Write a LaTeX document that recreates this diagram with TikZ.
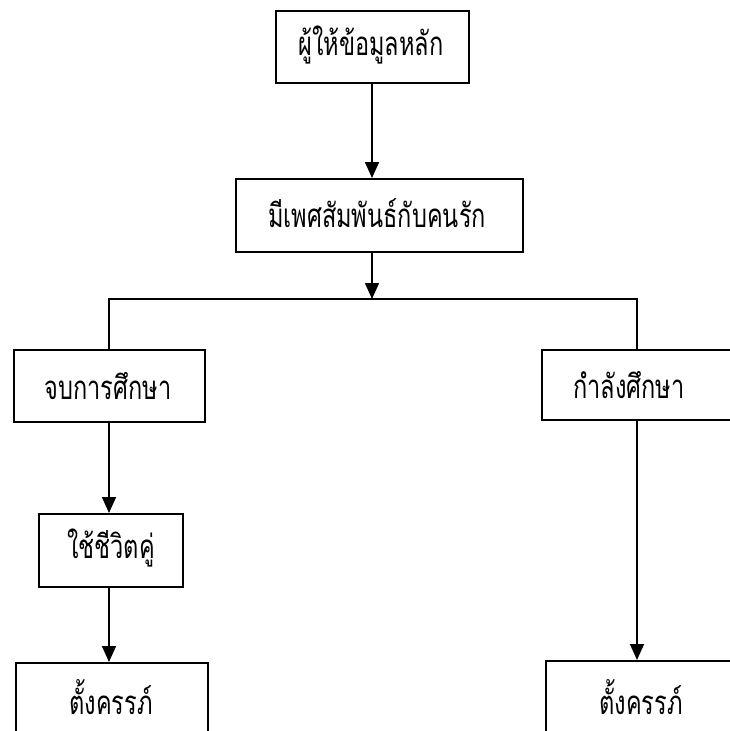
\documentclass[tikz,border=0pt]{standalone}
\usepackage{fontspec}
\newfontfamily\thaifont[Script=Thai]{Loma}
\usetikzlibrary{arrows.meta}
\newcommand{\tall}[1]{\scalebox{1.07}[1.5]{#1}}
\begin{document}
\begin{tikzpicture}[x=1pt,y=-1pt,
  box/.style={draw,line width=1.6pt,inner sep=0pt,anchor=north west},
  lbl/.style={font=\thaifont\fontsize{22}{24}\selectfont,inner sep=0pt},
  conn/.style={line width=1.6pt},
  arr/.style={conn,-{Triangle[width=14pt,length=16pt]}}]
\clip (0,0) rectangle (730,731);
\fill[white] (0,0) rectangle (730,731);
% boxes
\node[box,minimum width=193pt,minimum height=72pt] (b1) at (275,10) {};
\node[box,minimum width=287pt,minimum height=73pt] (b2) at (235,178) {};
\node[box,minimum width=191pt,minimum height=72pt] (b3) at (13,349) {};
\node[box,minimum width=250pt,minimum height=70pt] (b4) at (541,349) {};
\node[box,minimum width=144pt,minimum height=73pt] (b5) at (38,513) {};
\node[box,minimum width=192pt,minimum height=120pt] (b6) at (15,662) {};
\node[box,minimum width=250pt,minimum height=120pt] (b7) at (545,660) {};
% labels
\node[lbl] (t1) at (371,45) {\tall{ผู้ให้ข้อมูลหลัก}};
\node[lbl] (t2) at (377,213) {\tall{มีเพศสัมพันธ์กับคนรัก}};
\node[lbl] (t3) at (108,386) {\tall{จบการศึกษา}};
\node[lbl] (t4) at (629,385) {\tall{กำลังศึกษา}};
\node[lbl] (t5) at (111,548) {\tall{ใช้ชีวิตคู่}};
\node[lbl] (t6) at (111,697) {\tall{ตั้งครรภ์}};
\node[lbl] (t7) at (641,697) {\tall{ตั้งครรภ์}};
% junctions
\coordinate (jm) at (372,299);
\coordinate (jl) at (109,299);
\coordinate (jr) at (637,299);
% connectors
\draw[arr] (b1.south -| jm) -- (b2.north -| jm);
\draw[arr] (b2.south -| jm) -- (jm);
\draw[conn] (b3.north -| jl) -- (jl) -- (jr) -- (b4.north -| jr);
\draw[arr] (b3.south -| jl) -- (b5.north -| jl);
\draw[arr] (b5.south -| jl) -- (b6.north -| jl);
\draw[arr] (b4.south -| jr) -- (b7.north -| jr);
\end{tikzpicture}
\end{document}
